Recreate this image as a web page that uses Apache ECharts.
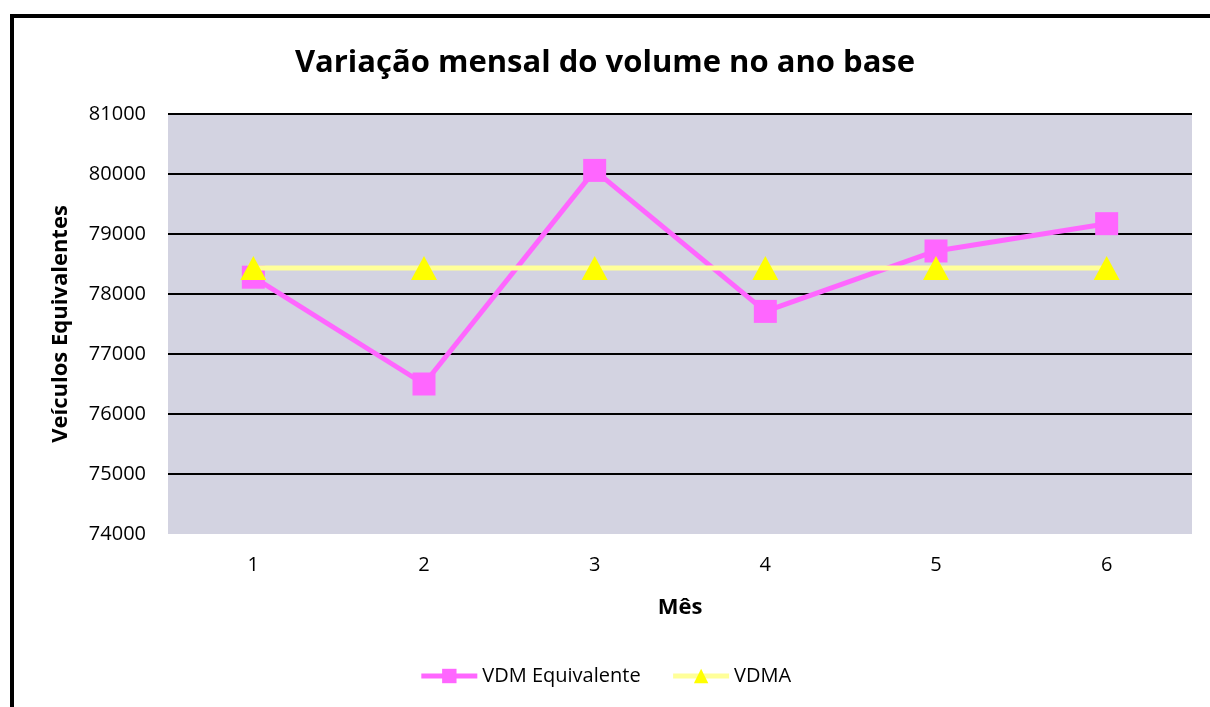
<!DOCTYPE html>
<html>
<head>
	<meta charset="utf-8">
	<title></title>
	<style>
		html, body { margin: 0; padding: 0; background: #fff; }
		#chart { width: 1210px; height: 707px; }
	</style>
</head>
<body>
<div id="chart"></div>
<script src="https://cdn.jsdelivr.net/npm/echarts@6/dist/echarts.min.js"></script>
<script type="text/javascript">
	// dados
	var meses = ['1', '2', '3', '4', '5', '6'];
	var vdmEquivalente = [78280, 76500, 80060, 77710, 78717, 79172];
	var vdma = [78433, 78433, 78433, 78433, 78433, 78433];

	var fonte = "'Open Sans', 'Liberation Sans', sans-serif";

	var chart = echarts.init(document.getElementById('chart'), null, {renderer: 'canvas'});
	chart.setOption({
		animation: false,
		backgroundColor: '#fff',
		textStyle: { fontFamily: fonte, color: '#000' },
		title: {
			text: 'Variação mensal do volume no ano base',
			left: 'center',
			top: 43,
			textStyle: { fontFamily: fonte, fontSize: 31, fontWeight: 'bold', color: '#000' }
		},
		graphic: [{
			type: 'rect',
			shape: { x: 12, y: 16, width: 1400, height: 900 },
			style: { fill: 'none', stroke: '#000', lineWidth: 4 },
			z: 100
		}],
		legend: {
			bottom: 16,
			left: 'center',
			itemWidth: 56,
			itemHeight: 18,
			itemGap: 30,
			lineStyle: { width: 5 },
			textStyle: { fontFamily: fonte, fontSize: 20, color: '#000' },
			data: ['VDM Equivalente', 'VDMA']
		},
		grid: {
			left: 168,
			right: 18,
			top: 114,
			bottom: 173,
			show: true,
			backgroundColor: '#D3D3E1',
			borderWidth: 0
		},
		xAxis: {
			type: 'category',
			data: meses,
			name: 'Mês',
			nameLocation: 'middle',
			nameGap: 63,
			nameTextStyle: { fontFamily: fonte, fontSize: 22, fontWeight: 'bold', color: '#000' },
			axisLine: { show: false },
			axisTick: { show: false },
			axisLabel: { fontFamily: fonte, fontSize: 20, color: '#000', margin: 21 }
		},
		yAxis: {
			type: 'value',
			min: 74000,
			max: 81000,
			interval: 1000,
			name: 'Veículos Equivalentes',
			nameLocation: 'middle',
			nameGap: 96,
			nameTextStyle: { fontFamily: fonte, fontSize: 22, fontWeight: 'bold', color: '#000' },
			axisLine: { show: false },
			axisTick: { show: false },
			axisLabel: {
				fontFamily: fonte, fontSize: 20, color: '#000', margin: 22,
				formatter: function (v) { return String(v); }
			},
			splitLine: { show: true, showMinLine: false, lineStyle: { color: '#000', width: 2 } }
		},
		series: [{
			name: 'VDM Equivalente',
			type: 'line',
			data: vdmEquivalente,
			symbol: 'rect',
			symbolSize: 23,
			lineStyle: { color: '#FF66FF', width: 5 },
			itemStyle: { color: '#FF66FF' },
			z: 2
		}, {
			name: 'VDMA',
			type: 'line',
			data: vdma,
			symbol: 'triangle',
			symbolSize: [26, 24],
			lineStyle: { color: '#FFFF99', width: 5 },
			itemStyle: { color: '#FFFF00' },
			z: 3
		}]
	});
</script>
</body>
</html>
